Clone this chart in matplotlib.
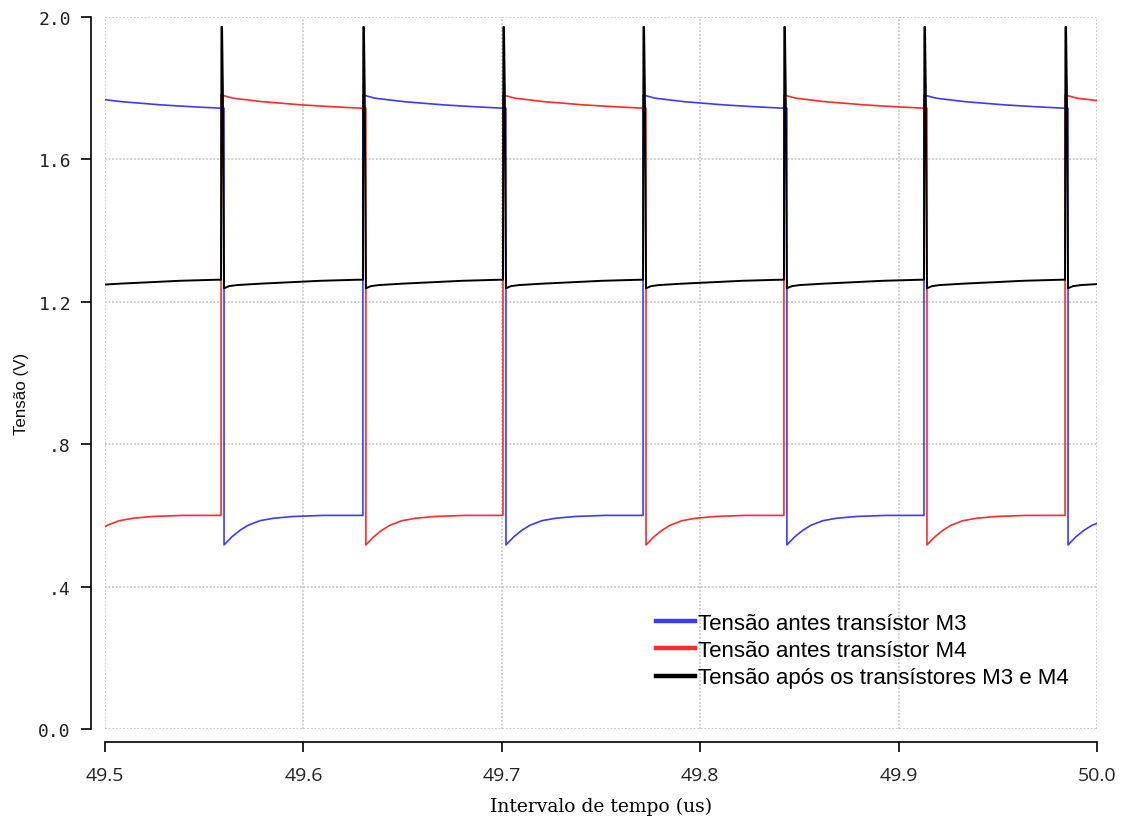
import matplotlib
matplotlib.use("Agg")
import matplotlib.pyplot as plt

# ---- data ----
# instants of the switching edges (us); the first one lies just before the window
TRANSITIONS = [49.4876, 49.5585, 49.6300, 49.7006, 49.7712, 49.8422, 49.9128, 49.9839]
T_END = 50.02
FALL_DELAY = 0.0015  # falling edge lags the rising edge

# shape of a "high" plateau after a rising edge (time offset, volts)
HIGH_DT = [0.0, 0.006, 0.021, 0.041, 0.056, 0.070]
HIGH_V = [1.781, 1.772, 1.762, 1.753, 1.748, 1.744]

# shape of a "low" plateau after a falling edge
LOW_DT = [0.0, 0.004, 0.008, 0.012, 0.018, 0.025, 0.035, 0.050, 0.070]
LOW_V = [0.517, 0.540, 0.558, 0.572, 0.585, 0.592, 0.597, 0.600, 0.603]

# output node: spike at each edge then slow ramp
OUT_DT = [0.0, 0.0002, 0.0005, 0.0009, 0.0015, 0.004, 0.008, 0.020, 0.035, 0.050, 0.069]
OUT_V = [1.262, 1.972, 1.972, 1.800, 1.238, 1.244, 1.247, 1.251, 1.255, 1.259, 1.262]

LABELS = ["Tensão antes transístor M3",
          "Tensão antes transístor M4",
          "Tensão após os transístores M3 e M4"]
X_TICKS = [49.5, 49.6, 49.7, 49.8, 49.9, 50.0]
X_TICKLABELS = ["49.5", "49.6", "49.7", "49.8", "49.9", "50.0"]
Y_TICKS = [0.0, 0.4, 0.8, 1.2, 1.6, 2.0]
Y_TICKLABELS = ["0.0", ".4", ".8", "1.2", "1.6", "2.0"]


def build_square(start_high):
    t, v = [], []
    n = len(TRANSITIONS)
    for k in range(n):
        seg_start = TRANSITIONS[k]
        seg_end = TRANSITIONS[k + 1] if k + 1 < n else T_END
        high = (k % 2 == 0) == start_high
        if high:
            start, end = seg_start, seg_end + FALL_DELAY
            dts, vals = HIGH_DT, HIGH_V
        else:
            start, end = seg_start + FALL_DELAY, seg_end
            dts, vals = LOW_DT, LOW_V
        last = vals[0]
        for dt, val in zip(dts, vals):
            if start + dt < end:
                t.append(start + dt)
                v.append(val)
                last = val
        t.append(end)
        v.append(last)
    return t, v


def build_output():
    t, v = [], []
    n = len(TRANSITIONS)
    for k in range(n):
        seg_start = TRANSITIONS[k]
        seg_end = TRANSITIONS[k + 1] if k + 1 < n else T_END
        last = OUT_V[0]
        for dt, val in zip(OUT_DT, OUT_V):
            if seg_start + dt < seg_end:
                t.append(seg_start + dt)
                v.append(val)
                last = val
        t.append(seg_end)
        v.append(last)
    return t, v


t_m3, v_m3 = build_square(True)
t_m4, v_m4 = build_square(False)
t_out, v_out = build_output()

fig = plt.figure(figsize=(11.23, 8.20), dpi=100)
ax = fig.add_axes([105 / 1123, 1 - 730 / 820, 992 / 1123, 712 / 820])

# spines first (set_position resets the ticks)
for s in ["top", "right"]:
    ax.spines[s].set_visible(False)
ax.spines["left"].set_position(("outward", 10))
ax.spines["bottom"].set_position(("outward", 9))
ax.spines["left"].set_linewidth(1.2)
ax.spines["bottom"].set_linewidth(1.2)

l1, = ax.plot(t_m3, v_m3, color="#3b3bff", lw=1.2, zorder=3)
l2, = ax.plot(t_m4, v_m4, color="#ff2b2b", lw=1.2, zorder=3)
l3, = ax.plot(t_out, v_out, color="#000000", lw=1.4, zorder=4)

ax.set_xlim(49.5, 50.0)
ax.set_ylim(0.0, 2.0)
ax.set_xticks(X_TICKS)
ax.set_xticklabels(X_TICKLABELS)
ax.set_yticks(Y_TICKS)
ax.set_yticklabels(Y_TICKLABELS)
ax.tick_params(axis="y", direction="out", length=7.5, width=1.2, pad=7,
               labelsize=13, labelfontfamily="DejaVu Sans Mono", labelcolor="#222222")
ax.tick_params(axis="x", direction="out", length=7.5, width=1.2, pad=10,
               labelsize=14, labelfontfamily="Open Sans", labelcolor="#222222")

ax.grid(True, color="#c8c8c8", linestyle=(0, (1, 1)), linewidth=1.3)
ax.set_axisbelow(True)

ax.set_xlabel("Intervalo de tempo (us)", fontfamily="DejaVu Serif", fontsize=13.5,
              labelpad=9.5)
ax.set_ylabel("Tensão (V)", fontfamily="Liberation Sans", fontsize=12.2, color="#111111")
ax.yaxis.set_label_coords(-0.0765, 0.472)

leg = ax.legend([l1, l2, l3], LABELS, loc="upper left", bbox_to_anchor=(0.5554, 0.163),
                frameon=False, borderpad=0, borderaxespad=0, handlelength=1.75,
                handletextpad=0.14, labelspacing=0.28,
                prop={"family": "Liberation Sans", "size": 16})
for h in leg.get_lines():
    h.set_linewidth(3.2)

fig.savefig("out.png", dpi=100)
